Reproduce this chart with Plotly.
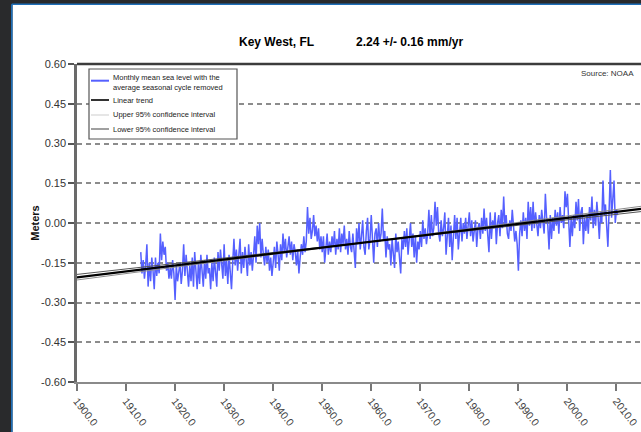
import plotly.graph_objects as go

# ---------------- data ----------------
first_year = 1913.0
samples_per_year = 4
sea_level = [
    # 1913-1919
    -0.11, -0.19, -0.14, -0.21,
    -0.16, -0.08, -0.24, -0.15,
    -0.22, -0.13, -0.18, -0.25,
    -0.13, -0.20, -0.15, -0.19,
    -0.04, -0.14, -0.07, -0.12,
    -0.09, -0.18, -0.15, -0.21,
    -0.17, -0.21, -0.14, -0.19,
    # 1920-1929
    -0.29, -0.16, -0.22, -0.18,
    -0.15, -0.23, -0.18, -0.08,
    -0.20, -0.12, -0.19, -0.24,
    -0.16, -0.22, -0.13, -0.24,
    -0.11, -0.20, -0.25, -0.15,
    -0.23, -0.12, -0.18, -0.24,
    -0.14, -0.21, -0.12, -0.19,
    -0.17, -0.25, -0.15, -0.22,
    -0.13, -0.19, -0.24, -0.11,
    -0.18, -0.10, -0.16, -0.21,
    # 1930-1939
    -0.08, -0.20, -0.14, -0.23,
    -0.12, -0.19, -0.25, -0.15,
    -0.06, -0.16, -0.10, -0.18,
    -0.13, -0.06, -0.19, -0.11,
    -0.17, -0.09, -0.14, -0.20,
    -0.08, -0.16, -0.11, -0.18,
    -0.12, -0.05, -0.15, -0.01,
    -0.08, 0.00, -0.13, -0.06,
    -0.12, -0.16, -0.09, -0.15,
    -0.10, -0.18, -0.13, -0.20,
    # 1940-1949
    -0.15, -0.09, -0.17, -0.07,
    -0.12, -0.18, -0.08, -0.14,
    -0.04, -0.11, -0.06, -0.13,
    -0.09, -0.05, -0.12, -0.07,
    -0.14, -0.08, -0.11, -0.16,
    -0.10, -0.19, -0.13, -0.08,
    -0.12, -0.05, -0.11, -0.07,
    0.06, -0.04, 0.02, -0.06,
    -0.03, 0.03, -0.05, -0.01,
    -0.07, -0.02, -0.10, -0.05,
    # 1950-1959
    -0.11, -0.05, -0.15, -0.08,
    -0.04, -0.12, -0.07, -0.11,
    -0.05, -0.09, -0.03, -0.12,
    -0.06, -0.10, -0.02, -0.11,
    -0.04, -0.08, -0.01, -0.10,
    -0.06, -0.12, -0.03, -0.09,
    -0.11, -0.04, -0.13, -0.17,
    -0.02, -0.08, 0.00, -0.10,
    -0.05, 0.01, -0.09, -0.12,
    -0.03, 0.02, -0.10, -0.06,
    # 1960-1969
    0.03, -0.08, -0.15, -0.04,
    -0.02, -0.09, 0.00, -0.07,
    -0.04, 0.055, -0.06, -0.03,
    -0.13, -0.05, -0.10, -0.08,
    -0.16, -0.06, -0.12, -0.17,
    -0.04, -0.11, -0.07, -0.13,
    -0.19, -0.06, -0.10, -0.03,
    -0.09, -0.02, -0.12, -0.06,
    0.00, -0.09, -0.04, -0.13,
    -0.05, -0.15, -0.07, -0.10,
    # 1970-1979
    -0.03, -0.09, 0.01, -0.06,
    -0.02, -0.08, -0.04, 0.05,
    -0.06, 0.03, -0.05, -0.02,
    0.08, -0.01, 0.06, -0.04,
    -0.07, 0.01, -0.05, -0.02,
    0.04, -0.12, -0.03, 0.02,
    -0.09, -0.01, -0.14, -0.04,
    0.03, -0.06, 0.02, -0.10,
    -0.03, 0.02, -0.07, 0.00,
    -0.04, 0.02, -0.06, -0.01,
    # 1980-1989
    0.04, -0.05, 0.01, -0.07,
    -0.03, 0.01, -0.09, -0.02,
    0.00, -0.06, 0.02, -0.04,
    0.055, -0.03, 0.02, -0.05,
    -0.11, 0.04, -0.06, 0.01,
    -0.02, 0.04, -0.08, 0.00,
    0.03, -0.05, 0.05, -0.02,
    0.10, -0.01, 0.03, -0.04,
    -0.06, 0.01, -0.03, 0.05,
    -0.02, -0.07, -0.03, -0.08,
    # 1990-1999
    -0.18, -0.04, 0.01, -0.05,
    0.04, -0.03, 0.02, -0.06,
    0.08, -0.01, 0.06, -0.03,
    0.08, -0.02, 0.04, 0.00,
    -0.05, 0.03, -0.02, 0.05,
    0.01, -0.04, 0.11, 0.02,
    -0.01, -0.10, 0.03, -0.06,
    0.02, -0.03, 0.05, -0.01,
    0.04, -0.04, 0.06, 0.00,
    0.03, -0.02, 0.12, 0.06,
    # 2000-2010
    0.11, -0.01, -0.09, 0.02,
    -0.05, 0.03, -0.02, 0.08,
    0.01, 0.09, -0.03, 0.04,
    0.06, -0.08, 0.02, -0.03,
    0.03, -0.04, 0.06, 0.01,
    0.10, -0.02, 0.05, -0.01,
    0.08, 0.02, -0.06, 0.04,
    0.00, 0.16, 0.03, 0.07,
    -0.01, -0.09, 0.05, 0.20,
    0.02, 0.08, 0.16, 0.00,
    0.05, 0.03,
]
sample_years = [first_year + i / samples_per_year for i in range(len(sea_level))]

line_years = [1900.0, 2015.0]
trend = [-0.205, 0.053]
upper_ci = [-0.215, 0.063]
lower_ci = [-0.194, 0.043]

y_ticks = [0.60, 0.45, 0.30, 0.15, 0.00, -0.15, -0.30, -0.45, -0.60]
y_tick_labels = ["0.60", "0.45", "0.30", "0.15", "0.00", "-0.15", "-0.30", "-0.45", "-0.60"]
x_ticks = [1900, 1910, 1920, 1930, 1940, 1950, 1960, 1970, 1980, 1990, 2000, 2010]
x_tick_labels = ["1900.0", "1910.0", "1920.0", "1930.0", "1940.0", "1950.0",
                 "1960.0", "1970.0", "1980.0", "1990.0", "2000.0", "2010.0"]

title_left = "Key West, FL"
title_right = "2.24 +/- 0.16 mm/yr"
source_text = "Source: NOAA"
legend_labels = [
    "Monthly mean sea level with the<br>average seasonal cycle removed",
    "Linear trend",
    "Upper 95% confidence interval",
    "Lower 95% confidence interval",
]

# ---------------- figure ----------------
W, H = 641, 432
L, R, T, B = 77, 0, 64, 50
PW, PH = W - L - R, H - T - B
FONT = "Liberation Sans Narrow, Arial Narrow, Liberation Sans, Arial, sans-serif"


def px(x):
    return (x - L) / PW


def py(y):
    return (H - B - y) / PH


fig = go.Figure()
fig.add_trace(go.Scatter(x=sample_years, y=sea_level, mode="lines",
                         line=dict(color="#5560ff", width=1.5),
                         name=legend_labels[0], showlegend=False))
fig.add_trace(go.Scatter(x=line_years, y=upper_ci, mode="lines",
                         line=dict(color="#8c8c8c", width=1),
                         name=legend_labels[2], showlegend=False))
fig.add_trace(go.Scatter(x=line_years, y=lower_ci, mode="lines",
                         line=dict(color="#555555", width=1),
                         name=legend_labels[3], showlegend=False))
fig.add_trace(go.Scatter(x=line_years, y=trend, mode="lines",
                         line=dict(color="#000000", width=2.2),
                         name=legend_labels[1], showlegend=False))

shapes = [
    # white page area with blue frame line
    dict(type="rect", xref="paper", yref="paper", layer="below",
         x0=px(12.5), x1=1.02, y0=py(440), y1=py(4.5),
         fillcolor="white", line=dict(width=0)),
    dict(type="line", xref="paper", yref="paper", layer="below",
         x0=px(11.8), x1=1.02, y0=py(4.2), y1=py(4.2),
         line=dict(color="#1f6fb8", width=1.6)),
    dict(type="line", xref="paper", yref="paper", layer="below",
         x0=px(11.8), x1=px(11.8), y0=py(440), y1=py(4.2),
         line=dict(color="#1f6fb8", width=1.6)),
    # top frame line
    dict(type="line", xref="paper", yref="paper",
         x0=0, x1=1.0, y0=1.0, y1=1.0,
         line=dict(color="#3c3c3c", width=2.5)),
    # legend box
    dict(type="rect", xref="paper", yref="paper",
         x0=px(89), x1=px(237), y0=py(139), y1=py(69),
         fillcolor="white", line=dict(color="#555555", width=1.2)),
]
legend_colors = ["#5560ff", "#000000", "#e0e0e0", "#777777"]
legend_widths = [2, 1.6, 1.6, 1.4]
legend_line_y = [80.7, 100, 115, 129]
legend_text_y = [82, 100, 115, 129]
for c, w, ly in zip(legend_colors, legend_widths, legend_line_y):
    shapes.append(dict(type="line", xref="paper", yref="paper",
                       x0=px(91), x1=px(109), y0=py(ly), y1=py(ly),
                       line=dict(color=c, width=w)))

annotations = [
    dict(text="<b>" + title_left + "</b>", x=px(276), y=py(42), xref="paper", yref="paper",
         showarrow=False, xanchor="center", yanchor="middle",
         font=dict(family=FONT, size=12, color="#000000")),
    dict(text="<b>" + title_right + "</b>", x=px(409.5), y=py(42), xref="paper", yref="paper",
         showarrow=False, xanchor="center", yanchor="middle",
         font=dict(family=FONT, size=12, color="#000000")),
    dict(text=source_text, x=px(636), y=py(73), xref="paper", yref="paper",
         showarrow=False, xanchor="right", yanchor="middle",
         font=dict(family=FONT, size=8, color="#333333")),
]
for lbl, ty in zip(legend_labels, legend_text_y):
    annotations.append(dict(text=lbl, x=px(111), y=py(ty), xref="paper", yref="paper",
                            showarrow=False, xanchor="left", yanchor="middle", align="left",
                            font=dict(family=FONT, size=7.5, color="#222222")))

fig.update_layout(
    width=W, height=H,
    margin=dict(l=L, r=R, t=T, b=B, pad=0),
    paper_bgcolor="#292a2c",
    plot_bgcolor="rgba(0,0,0,0)",
    showlegend=False,
    shapes=shapes,
    annotations=annotations,
    xaxis=dict(range=[1900, 2015], tickvals=x_ticks, ticktext=x_tick_labels,
               tickangle=52, ticks="outside", ticklen=7, tickwidth=1.5, tickcolor="#777777",
               showline=True, linecolor="#8a8a8a", linewidth=2,
               showgrid=False, zeroline=False,
               tickfont=dict(family=FONT, size=10.5, color="#444444")),
    yaxis=dict(range=[-0.6, 0.6], tickvals=y_ticks, ticktext=y_tick_labels,
               ticks="outside", ticklen=6, tickwidth=1.5, tickcolor="#555555",
               showline=True, linecolor="#6a6a6a", linewidth=2.5,
               showgrid=True, gridcolor="#8c8c8c", gridwidth=1.5, griddash="5px,4px",
               zeroline=False,
               tickfont=dict(family=FONT, size=11, color="#333333"),
               title=dict(text="<b>Meters</b>", standoff=0,
                          font=dict(family=FONT, size=11, color="#111111"))),
)

fig.write_html("out.html")
